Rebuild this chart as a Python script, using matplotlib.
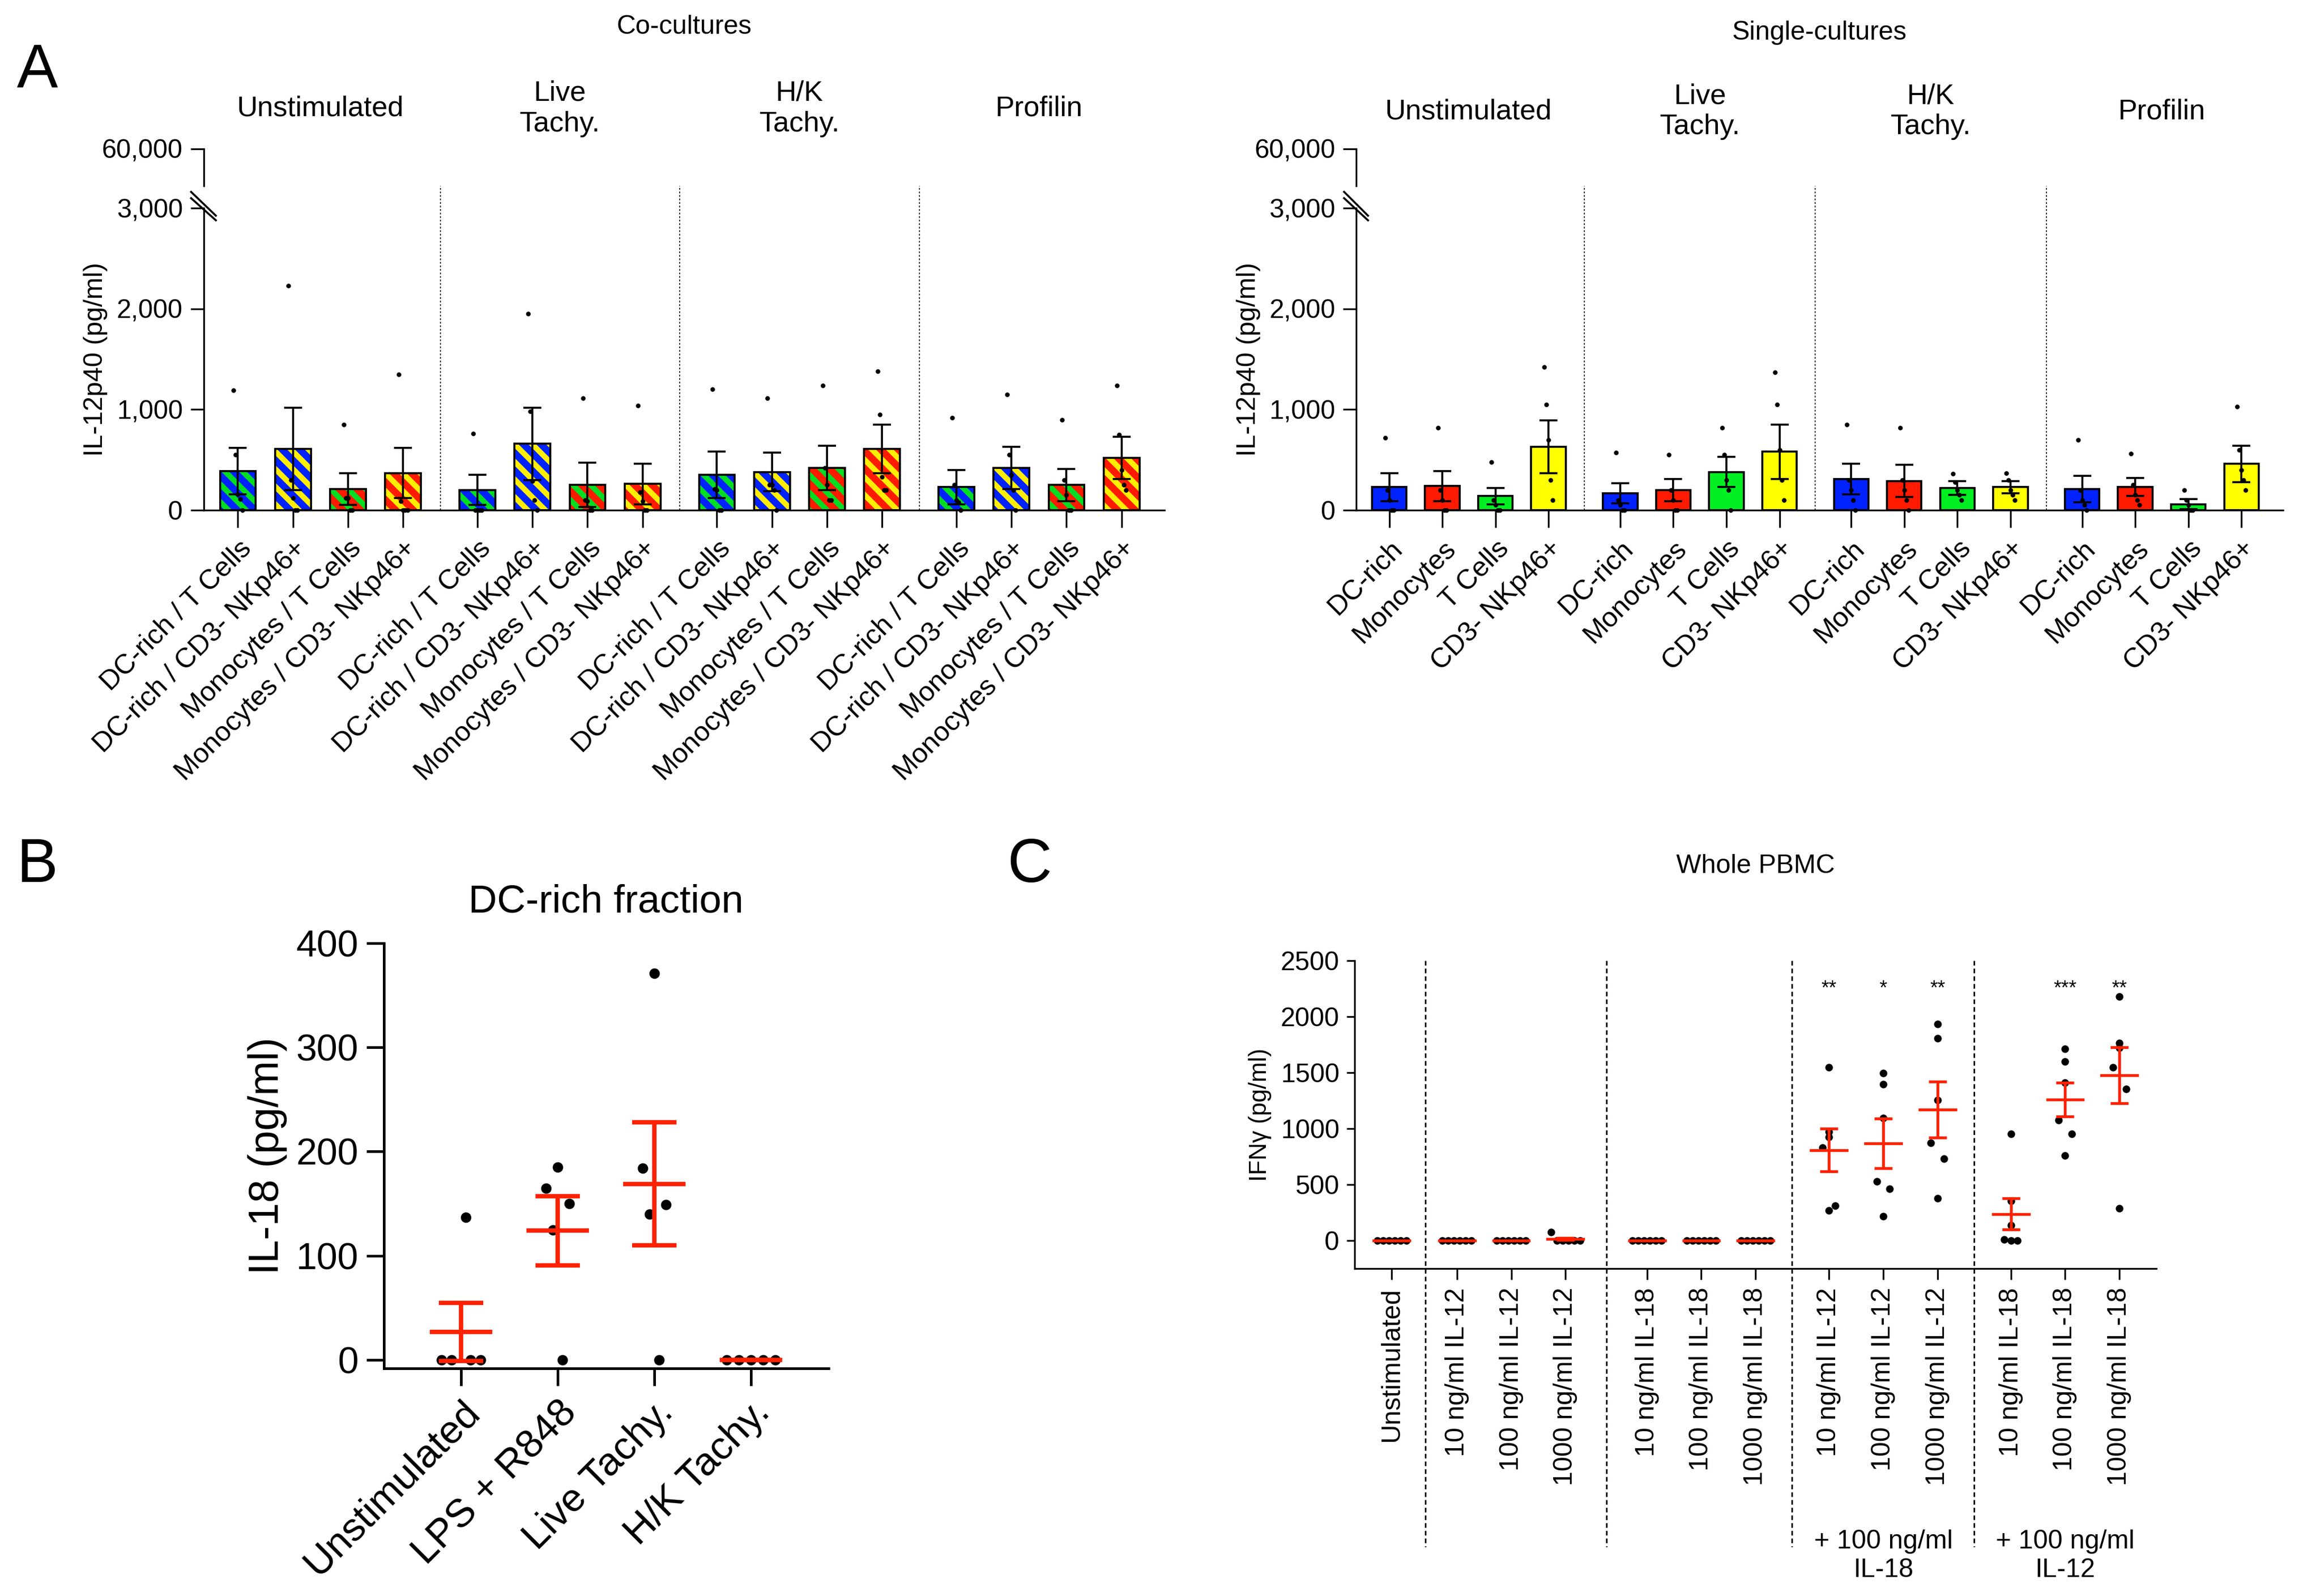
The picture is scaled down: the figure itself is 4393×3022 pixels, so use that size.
import numpy as np
import matplotlib

matplotlib.use("Agg")
import matplotlib.pyplot as plt

plt.rcParams["font.family"] = ["Liberation Sans", "DejaVu Sans"]
plt.rcParams["hatch.linewidth"] = 2.5

W, H = 1560.0, 1073.0

# ---------------- data ----------------
groups_a = ["Unstimulated", "Live\nTachy.", "H/K\nTachy.", "Profilin"]
co_labels = ["DC-rich / T Cells", "DC-rich / CD3- NKp46+",
             "Monocytes / T Cells", "Monocytes / CD3- NKp46+"]
co_means = [390, 610, 210, 370, 200, 660, 250, 260, 350, 380, 420, 610, 230, 420, 250, 520]
co_sem = [230, 410, 160, 250, 150, 360, 220, 200, 230, 190, 220, 240, 170, 210, 160, 210]
co_points = [
    [1190, 550, 160, 110, 0], [2230, 300, 120, 0, 0], [850, 120, 120, 0, 0], [1350, 90, 0, 0, 0],
    [760, 0, 0, 0, 0], [1950, 980, 290, 100, 0], [1110, 100, 90, 0, 0], [1040, 180, 90, 0, 0],
    [1200, 210, 200, 0, 0], [1110, 250, 250, 200, 0], [1240, 420, 250, 100, 100], [1380, 950, 330, 200, 200],
    [920, 250, 100, 80, 0], [1150, 550, 350, 200, 0], [900, 300, 150, 0, 0], [1240, 750, 400, 250, 200],
]
single_labels = ["DC-rich", "Monocytes", "T Cells", "CD3- NKp46+"]
single_means = [230, 240, 140, 630, 170, 200, 380, 580, 310, 290, 220, 230, 210, 230, 60, 460]
single_sem = [140, 150, 80, 260, 100, 110, 150, 270, 150, 160, 70, 60, 130, 90, 50, 180]
single_points = [
    [720, 200, 100, 0, 0], [820, 200, 100, 0, 0], [480, 100, 50, 0, 0], [1420, 1050, 700, 300, 100],
    [570, 100, 50, 0, 0], [550, 200, 100, 0, 0], [820, 550, 300, 200, 0], [1370, 1050, 600, 300, 100],
    [850, 300, 200, 100, 0], [820, 300, 200, 100, 0], [360, 280, 200, 150, 100], [370, 300, 200, 150, 100],
    [700, 200, 100, 50, 0], [560, 250, 150, 100, 50], [200, 100, 50, 0, 0], [1030, 600, 400, 300, 200],
]

b_labels = ["Unstimulated", "LPS + R848", "Live Tachy.", "H/K Tachy."]
b_means = [27, 124, 169, 0]
b_sem = [28, 33, 59, 0]
b_points = [[137, 0, 0, 0, 0], [185, 165, 150, 125, 0], [371, 184, 149, 140, 0], [0, 0, 0, 0, 0]]

c_labels = ["Unstimulated", "10 ng/ml IL-12", "100 ng/ml IL-12", "1000 ng/ml IL-12",
            "10 ng/ml IL-18", "100 ng/ml IL-18", "1000 ng/ml IL-18",
            "10 ng/ml IL-12", "100 ng/ml IL-12", "1000 ng/ml IL-12",
            "10 ng/ml IL-18", "100 ng/ml IL-18", "1000 ng/ml IL-18"]
c_means = [0, 0, 0, 15, 0, 0, 0, 810, 870, 1170, 240, 1260, 1480]
c_sem = [0, 0, 0, 10, 0, 0, 0, 190, 220, 250, 140, 150, 250]
c_points = [
    [0] * 6, [0] * 6, [0] * 6, [75, 0, 0, 0, 0, 0], [0] * 6, [0] * 6, [0] * 6,
    [1550, 973, 925, 830, 312, 270], [1497, 1399, 1094, 529, 462, 221],
    [1935, 1810, 1255, 873, 733, 377], [957, 356, 139, 10, 0, 0],
    [1714, 1603, 1413, 1077, 957, 762], [2180, 1767, 1724, 1550, 1356, 288],
]
c_stars = ["", "", "", "", "", "", "", "**", "*", "**", "", "***", "**"]

fig = plt.figure(figsize=(4393 / 300, 3022 / 300), dpi=300)


def frame(x0, y0, x1, y1):
    return [x0 / W, 1 - y1 / H, (x1 - x0) / W, (y1 - y0) / H]


def pos_a():
    return np.array([g * 4.35 + i for g in range(4) for i in range(4)])


def panel_a(x0, x1, means, sem, points, face, hatch_col, labels, title, ty):
    ax = fig.add_axes(frame(x0, 140, x1, 343))
    top = fig.add_axes(frame(x0, 100, x1, 125))
    xs = pos_a()
    for k, x in enumerate(xs):
        i = k % 4
        if hatch_col is not None:
            ax.bar(x, means[k], 0.65, color=face[i], edgecolor=hatch_col[i], hatch="\\\\\\", lw=0)
        else:
            ax.bar(x, means[k], 0.65, color=face[i], lw=0)
        ax.bar(x, means[k], 0.65, fill=False, edgecolor="black", lw=0.9)
        ax.errorbar(x, means[k], yerr=sem[k], color="black", capsize=4, lw=0.9, capthick=0.9)
        off = np.linspace(-0.08, 0.08, len(points[k]))
        ax.scatter(x + off, points[k], s=1.2, color="black", zorder=5, clip_on=False)
    ax.set_xlim(-0.62, 16.83)
    ax.set_ylim(0, 3000)
    ax.set_yticks([0, 1000, 2000, 3000])
    ax.set_yticklabels(["0", "1,000", "2,000", "3,000"], fontsize=12)
    ax.set_xticks(xs)
    ax.set_xticklabels(labels * 4, rotation=45, ha="right", rotation_mode="anchor", fontsize=12.5)
    ax.tick_params(axis="x", length=8)
    ax.tick_params(axis="y", length=6)
    ax.set_ylabel("IL-12p40 (pg/ml)", fontsize=12)
    for s in ["top", "right"]:
        ax.spines[s].set_visible(False)
    top.set_xlim(ax.get_xlim())
    top.set_ylim(55000, 60000)
    top.set_yticks([60000])
    top.set_yticklabels(["60,000"], fontsize=12)
    top.tick_params(axis="y", length=6)
    top.set_xticks([])
    for s in ["top", "right", "bottom"]:
        top.spines[s].set_visible(False)
    ax.plot([-0.85, -0.4], [3100, 2880], color="black", lw=0.9, clip_on=False)
    top.plot([-0.85, -0.4], [54200, 51000], color="black", lw=0.9, clip_on=False)
    tr = ax.get_xaxis_transform()
    for d in [3.675, 8.025, 12.375]:
        ax.plot([d, d], [0, (343 - 100) / 203], transform=tr, color="black", ls=(0, (2, 2)),
                lw=0.4, clip_on=False)
    for g in range(4):
        ax.text(g * 4.35 + 1.5, ty, groups_a[g], transform=tr, ha="center", va="center", fontsize=13)
    fig.text((x0 + x1) / 2 / W, 1 - title[1] / H, title[0], ha="center", va="center", fontsize=12)


panel_a(137, 783, co_means, co_sem, co_points,
        ["#0022ff", "#0022ff", "#ff1a00", "#ff1a00"],
        ["#00dd22", "#ffee00", "#00dd22", "#ffee00"],
        co_labels, ("Co-cultures", 18), 1.33)
panel_a(912, 1535, single_means, single_sem, single_points,
        ["#0022ff", "#ff1a00", "#00ee22", "#ffff00"], None,
        single_labels, ("Single-cultures", 22), 1.32)

# ---------------- B ----------------
axb = fig.add_axes(frame(258, 634, 557, 920))
xb = np.arange(4)
for k in range(4):
    off = np.linspace(-0.25, 0.25, 5) if b_points[k].count(0) == 5 else np.array([0, -0.12, 0.12, -0.05, 0.05])
    if k == 0:
        off = np.array([0.05, -0.2, -0.1, 0.1, 0.2])
    axb.scatter(xb[k] + off, b_points[k], s=14, color="black", zorder=3, clip_on=False)
    axb.errorbar(xb[k], b_means[k], yerr=b_sem[k], color="#ff2200", capsize=10, lw=2, capthick=2, zorder=4)
    axb.plot([xb[k] - 0.3, xb[k] + 0.3], [b_means[k]] * 2, color="#ff2200", lw=2, zorder=4)
axb.set_xlim(-0.8, 3.8)
axb.set_ylim(-8, 400)
axb.set_yticks([0, 100, 200, 300, 400])
axb.tick_params(axis="y", labelsize=17, length=8, width=1.2)
axb.tick_params(axis="x", length=8, width=1.2)
axb.set_xticks(xb)
axb.set_xticklabels(b_labels, rotation=45, ha="right", rotation_mode="anchor", fontsize=18)
axb.set_ylabel("IL-18 (pg/ml)", fontsize=19)
axb.set_title("DC-rich fraction", fontsize=18, pad=14)
for s in ["top", "right"]:
    axb.spines[s].set_visible(False)
for s in ["left", "bottom"]:
    axb.spines[s].set_linewidth(1.2)

# ---------------- C ----------------
axc = fig.add_axes(frame(911, 646, 1450, 853))
xc = np.array([0, 1.2, 2.2, 3.2, 4.7, 5.7, 6.7, 8.05, 9.05, 10.05, 11.4, 12.4, 13.4])
for k in range(len(xc)):
    pts = np.array(c_points[k])
    if np.all(pts < 20) or k == 3:
        off = np.linspace(-0.27, 0.27, 6)
    else:
        off = np.array([0, 0, 0, -0.12, 0.12, 0])
    axc.scatter(xc[k] + off, pts, s=6, color="black", zorder=3)
    if c_means[k] > 0:
        axc.errorbar(xc[k], c_means[k], yerr=c_sem[k], color="#ff2200", capsize=4, lw=1.3, capthick=1.3, zorder=4)
    axc.plot([xc[k] - 0.33, xc[k] + 0.33], [c_means[k]] * 2, color="#ff2200", lw=1.3, zorder=4)
    if c_stars[k]:
        axc.text(xc[k], 2250, c_stars[k], ha="center", va="center", fontsize=9)
axc.set_xlim(-0.68, 14.08)
axc.set_ylim(-250, 2500)
axc.set_yticks(range(0, 2501, 500))
axc.tick_params(axis="y", labelsize=12)
axc.tick_params(axis="x", length=5)
axc.set_xticks(xc)
axc.set_xticklabels(c_labels, rotation=90, fontsize=12)
axc.set_ylabel("IFNγ (pg/ml)", fontsize=11)
axc.set_title("Whole PBMC", fontsize=12, pad=40)
for s in ["top", "right"]:
    axc.spines[s].set_visible(False)
trc = axc.get_xaxis_transform()
for d in [0.62, 3.95, 7.37, 10.72]:
    axc.plot([d, d], [1.0, (853 - 1040) / 207], transform=trc, color="black", ls=(0, (3, 2)),
             lw=0.7, clip_on=False)
axc.text(9.05, (853 - 1046) / 207, "+ 100 ng/ml\nIL-18", transform=trc, ha="center", va="center", fontsize=12)
axc.text(12.4, (853 - 1046) / 207, "+ 100 ng/ml\nIL-12", transform=trc, ha="center", va="center", fontsize=12)

for letter, x, y in [("A", 25, 48), ("B", 25, 582), ("C", 692, 582)]:
    fig.text(x / W, 1 - y / H, letter, fontsize=28, ha="center", va="center")

fig.savefig("out.png", dpi=300)
